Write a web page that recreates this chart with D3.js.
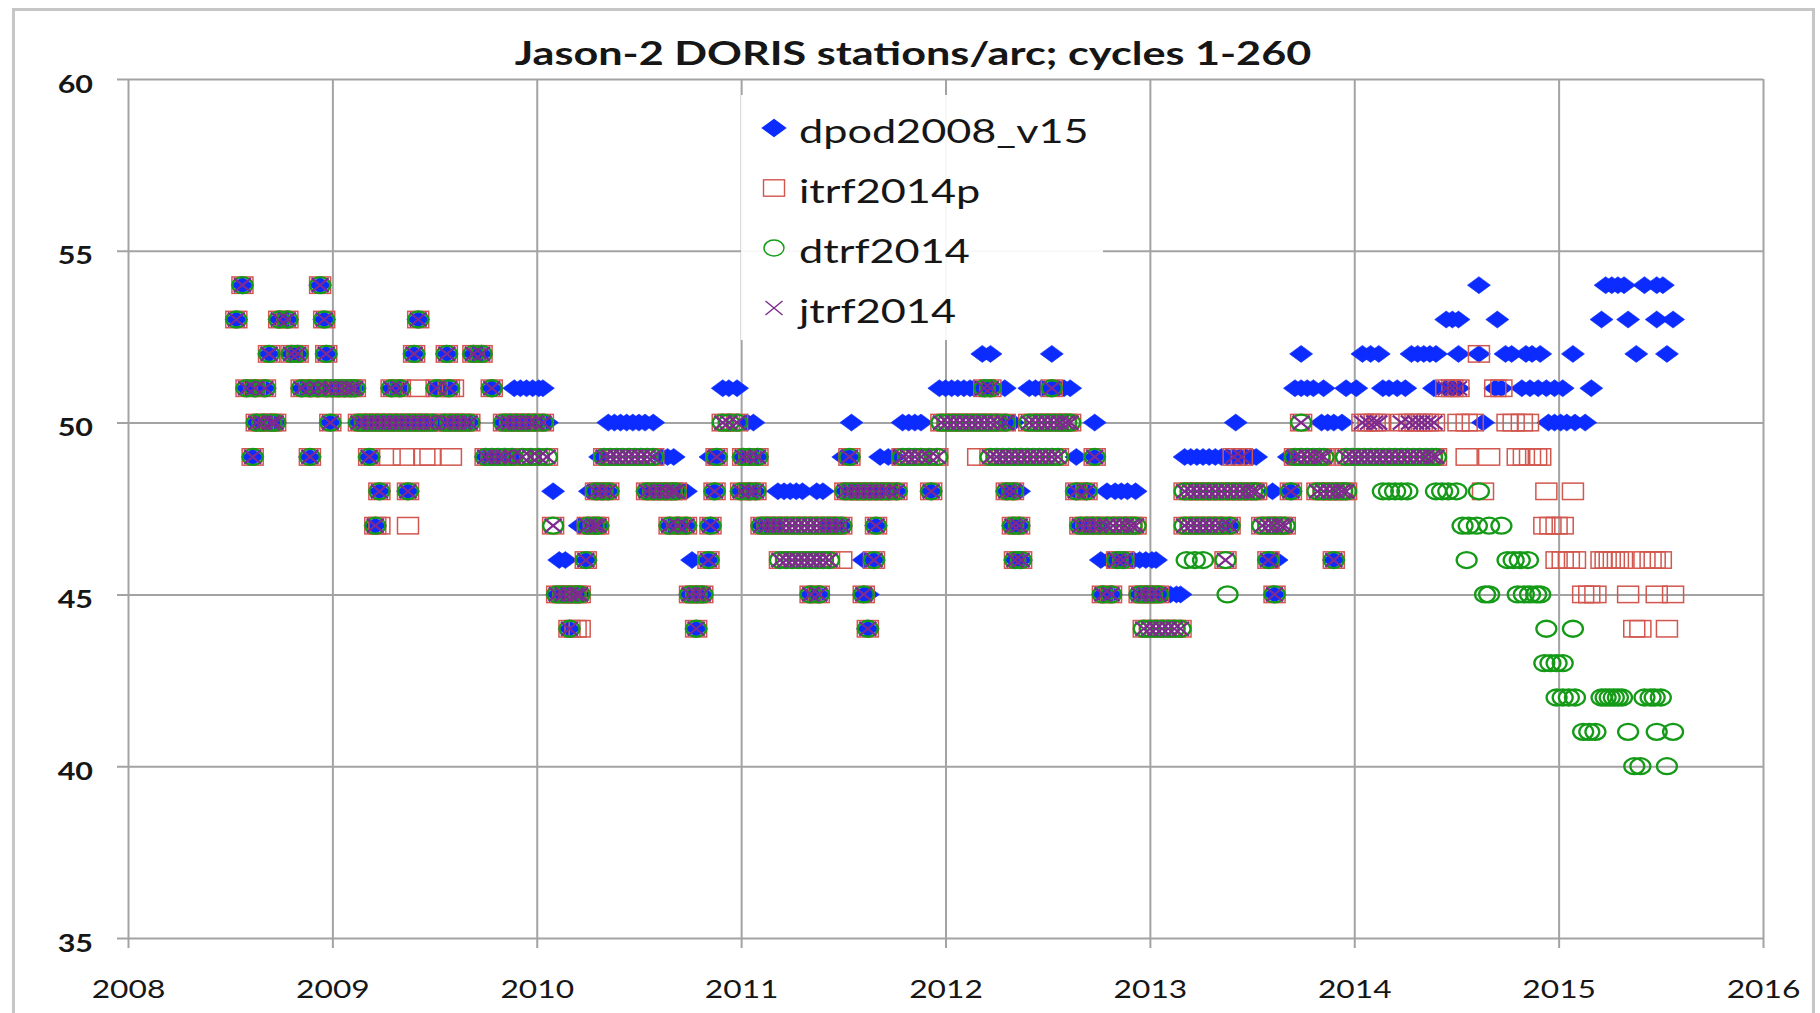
<!DOCTYPE html>
<html>
<head>
<meta charset="utf-8">
<script src="https://cdn.jsdelivr.net/npm/d3@7"></script>
<style>
body { margin: 0; background: #fff; }
svg text { font-family: Lato, "Open Sans", sans-serif; fill: #161616; }
</style>
</head>
<body>
<div class="chart"></div>
<script>
const title = "Jason-2 DORIS stations/arc; cycles 1-260";
const x_ticks = [2008, 2009, 2010, 2011, 2012, 2013, 2014, 2015, 2016];
const y_ticks = [35, 40, 45, 50, 55, 60];
const series_names = ["dpod2008_v15", "itrf2014p", "dtrf2014", "jtrf2014"];

// Arcs where all four solutions give the same station count: [stations, [dates]]
const shared_rows = [
  [54, [2008.56, 2008.94]],
  [53, [2008.53, 2008.74, 2008.78, 2008.96, 2009.42]],
  [52, [2008.69, 2008.80, 2008.83, 2008.97, 2009.40, 2009.56, 2009.69, 2009.73]],
  [51, [2008.58, 2008.62, 2008.67, 2008.85, 2008.89, 2008.93, 2008.97, 2009.00, 2009.03, 2009.06, 2009.09, 2009.11, 2009.29, 2009.33, 2009.51, 2009.57, 2009.78, 2012.19, 2012.22, 2012.52]],
  [50, [2008.63, 2008.66, 2008.70, 2008.72, 2008.99, 2009.13, 2009.16, 2009.19, 2009.22, 2009.25, 2009.28, 2009.31, 2009.34, 2009.37, 2009.40, 2009.43, 2009.46, 2009.49, 2009.55, 2009.58, 2009.61, 2009.64, 2009.67, 2009.84, 2009.87, 2009.90, 2009.93, 2009.96, 2009.99, 2010.03]],
  [49, [2008.61, 2008.89, 2009.18, 2009.75, 2009.78, 2009.81, 2009.84, 2009.88, 2010.88, 2011.01, 2011.04, 2011.08, 2011.53, 2012.73]],
  [48, [2009.23, 2009.37, 2010.29, 2010.32, 2010.35, 2010.54, 2010.57, 2010.60, 2010.63, 2010.66, 2010.68, 2010.87, 2011.00, 2011.04, 2011.07, 2011.51, 2011.54, 2011.57, 2011.60, 2011.63, 2011.66, 2011.69, 2011.72, 2011.76, 2011.93, 2012.30, 2012.33, 2012.64, 2012.69, 2013.69]],
  [47, [2009.21, 2010.25, 2010.28, 2010.30, 2010.65, 2010.69, 2010.73, 2010.85, 2011.10, 2011.13, 2011.16, 2011.43, 2011.46, 2011.49, 2011.66, 2012.33, 2012.36, 2012.66, 2012.69, 2012.72, 2012.75, 2013.39]],
  [46, [2010.24, 2010.84, 2011.65, 2012.34, 2012.37, 2012.84, 2012.87, 2013.58, 2013.90]],
  [45, [2010.10, 2010.13, 2010.16, 2010.19, 2010.21, 2010.75, 2010.78, 2010.81, 2011.34, 2011.38, 2011.60, 2012.77, 2012.81, 2012.95, 2012.98, 2013.01, 2013.04, 2013.61]],
  [44, [2010.16, 2010.78, 2011.62]],
];

// itrf2014p, dtrf2014 and jtrf2014 agree, dpod2008_v15 differs
const no_dpod_rows = [
  [50, [2010.91, 2010.94, 2010.98, 2011.98, 2012.01, 2012.04, 2012.07, 2012.10, 2012.13, 2012.16, 2012.19, 2012.22, 2012.25, 2012.29, 2012.41, 2012.44, 2012.47, 2012.50, 2012.53, 2012.56, 2012.59, 2012.61, 2013.74]],
  [49, [2009.93, 2009.97, 2010.01, 2010.05, 2010.33, 2010.36, 2010.39, 2010.42, 2010.45, 2010.48, 2010.51, 2010.54, 2010.57, 2011.79, 2011.82, 2011.85, 2011.88, 2011.92, 2011.96, 2012.22, 2012.25, 2012.28, 2012.31, 2012.34, 2012.37, 2012.40, 2012.43, 2012.46, 2012.49, 2012.52, 2012.55, 2013.71, 2013.74, 2013.77, 2013.80, 2013.83, 2013.85, 2013.96, 2013.99, 2014.02, 2014.05, 2014.08, 2014.11, 2014.14, 2014.17, 2014.20, 2014.23, 2014.26, 2014.29, 2014.32, 2014.35, 2014.38, 2014.40]],
  [48, [2013.17, 2013.20, 2013.23, 2013.26, 2013.29, 2013.32, 2013.35, 2013.38, 2013.41, 2013.44, 2013.47, 2013.50, 2013.52, 2013.82, 2013.85, 2013.88, 2013.91, 2013.94, 2013.96]],
  [47, [2010.08, 2011.19, 2011.22, 2011.25, 2011.28, 2011.31, 2011.34, 2011.37, 2011.40, 2012.79, 2012.82, 2012.85, 2012.88, 2012.91, 2012.93, 2013.17, 2013.20, 2013.23, 2013.26, 2013.29, 2013.32, 2013.35, 2013.55, 2013.58, 2013.61, 2013.64, 2013.66]],
  [46, [2011.19, 2011.22, 2011.25, 2011.28, 2011.31, 2011.34, 2011.37, 2011.40, 2011.43, 2013.37]],
  [44, [2012.97, 2013.00, 2013.03, 2013.06, 2013.09, 2013.12, 2013.15]],
];

// itrf2014p and jtrf2014 agree
const itrf_jtrf_rows = [
  [51, [2014.45, 2014.48, 2014.51]],
  [50, [2014.04, 2014.07, 2014.10, 2014.12, 2014.23, 2014.27, 2014.30, 2014.33, 2014.36, 2014.39]],
  [49, [2013.41, 2013.45]],
];

const dpod_only_rows = [
  [54, [2014.61, 2015.23, 2015.26, 2015.29, 2015.32, 2015.42, 2015.48, 2015.51]],
  [53, [2014.45, 2014.48, 2014.51, 2014.70, 2015.21, 2015.34, 2015.48, 2015.56]],
  [52, [2012.18, 2012.22, 2012.52, 2013.74, 2014.04, 2014.08, 2014.12, 2014.28, 2014.31, 2014.34, 2014.37, 2014.40, 2014.51, 2014.61, 2014.74, 2014.77, 2014.84, 2014.87, 2014.91, 2015.07, 2015.38, 2015.53]],
  [51, [2009.89, 2009.92, 2009.95, 2009.98, 2010.01, 2010.03, 2010.91, 2010.94, 2010.98, 2011.97, 2012.00, 2012.03, 2012.06, 2012.09, 2012.12, 2012.14, 2012.29, 2012.41, 2012.44, 2012.47, 2012.55, 2012.58, 2012.61, 2013.71, 2013.74, 2013.77, 2013.80, 2013.85, 2013.96, 2014.01, 2014.14, 2014.17, 2014.21, 2014.25, 2014.39, 2014.45, 2014.48, 2014.51, 2014.69, 2014.72, 2014.82, 2014.86, 2014.90, 2014.94, 2014.98, 2015.02, 2015.16]],
  [50, [2010.05, 2010.35, 2010.38, 2010.41, 2010.44, 2010.47, 2010.50, 2010.53, 2010.57, 2011.03, 2011.06, 2011.54, 2011.79, 2011.82, 2011.85, 2011.88, 2012.30, 2012.33, 2012.73, 2013.42, 2013.84, 2013.87, 2013.90, 2013.94, 2014.63, 2014.95, 2014.98, 2015.01, 2015.04, 2015.08, 2015.13]],
  [49, [2010.31, 2010.61, 2010.64, 2010.67, 2010.85, 2011.06, 2011.50, 2011.68, 2011.72, 2011.75, 2012.64, 2013.17, 2013.20, 2013.23, 2013.26, 2013.29, 2013.32, 2013.35, 2013.38, 2013.41, 2013.44, 2013.47, 2013.50, 2013.52, 2013.68]],
  [48, [2010.08, 2010.26, 2010.71, 2010.73, 2011.18, 2011.21, 2011.24, 2011.27, 2011.30, 2011.37, 2011.40, 2012.36, 2012.79, 2012.83, 2012.86, 2012.89, 2012.93, 2013.60]],
  [47, [2010.21]],
  [46, [2010.11, 2010.14, 2010.76, 2011.60, 2012.76, 2012.80, 2012.92, 2012.95, 2012.98, 2013.01, 2013.03, 2013.62]],
  [45, [2011.62, 2013.07, 2013.10, 2013.13, 2013.15]],
];

const itrf_only_rows = [
  [52, [2014.61]],
  [51, [2009.42, 2009.59, 2014.69, 2014.72]],
  [50, [2014.51, 2014.55, 2014.58, 2014.75, 2014.78, 2014.82, 2014.85]],
  [49, [2009.28, 2009.35, 2009.45, 2009.48, 2009.58, 2012.16, 2014.55, 2014.66, 2014.80, 2014.83, 2014.86, 2014.89, 2014.91]],
  [48, [2014.63, 2014.94, 2015.07]],
  [47, [2009.23, 2009.37, 2014.93, 2014.96, 2014.99, 2015.02]],
  [46, [2011.49, 2014.99, 2015.02, 2015.05, 2015.08, 2015.21, 2015.23, 2015.25, 2015.27, 2015.29, 2015.31, 2015.42, 2015.45, 2015.47, 2015.50]],
  [45, [2015.12, 2015.15, 2015.18, 2015.34, 2015.48, 2015.56]],
  [44, [2010.19, 2010.21, 2015.37, 2015.40, 2015.53]],
];

const dtrf_only_rows = [
  [48, [2014.14, 2014.17, 2014.20, 2014.23, 2014.26, 2014.40, 2014.43, 2014.46, 2014.50, 2014.61]],
  [47, [2014.53, 2014.56, 2014.60, 2014.66, 2014.72]],
  [46, [2013.18, 2013.22, 2013.26, 2014.55, 2014.75, 2014.78, 2014.81, 2014.85]],
  [45, [2013.38, 2014.64, 2014.66, 2014.80, 2014.83, 2014.86, 2014.89, 2014.91]],
  [44, [2014.94, 2015.07]],
  [43, [2014.93, 2014.96, 2014.99, 2015.02]],
  [42, [2014.99, 2015.02, 2015.05, 2015.08, 2015.21, 2015.23, 2015.25, 2015.27, 2015.29, 2015.31, 2015.42, 2015.45, 2015.47, 2015.50]],
  [41, [2015.12, 2015.15, 2015.18, 2015.34, 2015.48, 2015.56]],
  [40, [2015.37, 2015.40, 2015.53]],
];

const to_points = rows => rows.flatMap(([value, years]) => years.map(year => ({year, value})));

const shared = to_points(shared_rows);
const no_dpod = to_points(no_dpod_rows);
const itrf_jtrf = to_points(itrf_jtrf_rows);

const series = [
  {name: series_names[0], shape: "diamond", points: shared.concat(to_points(dpod_only_rows))},
  {name: series_names[1], shape: "square", points: shared.concat(no_dpod, itrf_jtrf, to_points(itrf_only_rows))},
  {name: series_names[2], shape: "circle", points: shared.concat(no_dpod, to_points(dtrf_only_rows))},
  {name: series_names[3], shape: "cross", points: shared.concat(no_dpod, itrf_jtrf)},
];

const width = 1820;
const height = 1013;
const plot_left = 128;
const plot_right = 1763;
const plot_top = 79;
const plot_bottom = 938;
const text_stretch = 1.27;   // the original picture is stretched sideways
const grid_color = "#a3a3a3";

const colors = {diamond: "#0b2bff", square: "#d2574f", circle: "#159a18", cross: "#7e2a8e"};

const svg = d3.select(".chart").append("svg")
  .attr("width", width)
  .attr("height", height)
;

// Outer frame
svg.append("rect")
  .attr("x", 13.5).attr("y", 9.5)
  .attr("width", 1800).attr("height", 1030)
  .attr("fill", "#fff")
  .attr("stroke", "#c6c6c6")
  .attr("stroke-width", 3)
;

const x = d3.scaleLinear().domain([2008, 2016]).range([plot_left, plot_right]);
const y = d3.scaleLinear().domain([35, 60]).range([plot_bottom, plot_top]);

// y gridlines + labels
const y_axis = svg.append("g")
  .attr("transform", `translate(${plot_left - 11},0)`)
  .call(d3.axisLeft(y).tickValues(y_ticks).tickSize(-(plot_right - plot_left + 11)).tickSizeOuter(0))
;
y_axis.select(".domain").remove();
y_axis.selectAll("line").attr("stroke", grid_color).attr("stroke-width", 2);
y_axis.selectAll("text")
  .attr("x", 0).attr("dy", null)
  .attr("transform", `translate(-24,13) scale(${text_stretch},1)`)
  .attr("fill", "#161616")
  .style("font-family", "Lato, sans-serif")
  .style("font-size", "24px")
  .style("font-weight", "bold")
;

// x gridlines + labels
const x_axis = svg.append("g")
  .attr("transform", `translate(0,${plot_bottom + 10})`)
  .call(d3.axisBottom(x).tickValues(x_ticks).tickFormat(d3.format("d")).tickSize(-(plot_bottom + 10 - plot_top)).tickSizeOuter(0))
;
x_axis.select(".domain").remove();
x_axis.selectAll("line").attr("stroke", grid_color).attr("stroke-width", 2);
x_axis.selectAll("text")
  .attr("y", 0).attr("dy", null)
  .attr("transform", `translate(0,50) scale(${text_stretch},1)`)
  .attr("fill", "#161616")
  .style("font-family", "Lato, sans-serif")
  .style("font-size", "25px")
;

// Title
svg.append("text")
  .attr("transform", `translate(913,65) scale(1.35,1)`)
  .style("text-anchor", "middle")
  .style("font-size", "32px")
  .style("font-weight", "bold")
  .text(title)
;

function draw_marker(sel, shape) {
  if (shape === "diamond") {
    sel.append("path")
      .attr("d", "M0,-8.5L11.5,0L0,8.5L-11.5,0Z")
      .attr("fill", colors.diamond)
      .attr("stroke", colors.diamond)
      .attr("stroke-width", 0.6);
  } else if (shape === "square") {
    sel.append("rect")
      .attr("x", -10.5).attr("y", -8.2)
      .attr("width", 21).attr("height", 16.4)
      .attr("fill", "none")
      .attr("stroke", colors.square)
      .attr("stroke-width", 1.5);
  } else if (shape === "circle") {
    sel.append("ellipse")
      .attr("rx", 10).attr("ry", 8)
      .attr("fill", "none")
      .attr("stroke", colors.circle)
      .attr("stroke-width", 2.3);
  } else {
    sel.append("path")
      .attr("d", "M-8.5,-7L8.5,7M-8.5,7L8.5,-7")
      .attr("fill", "none")
      .attr("stroke", colors.cross)
      .attr("stroke-width", 2.2);
  }
}

// Points, drawn in series order like the original
const plot = svg.append("g").attr("class", "points");
for (const s of series) {
  plot.append("g")
    .selectAll("g")
    .data(s.points)
    .join("g")
      .attr("transform", d => `translate(${x(d.year)},${y(d.value)})`)
      .each(function() { draw_marker(d3.select(this), s.shape); })
  ;
}

// Legend
const legend = svg.append("g").attr("class", "legend");
legend.append("rect")
  .attr("x", 741).attr("y", 95)
  .attr("width", 362).attr("height", 245)
  .attr("fill", "#fff")
  .attr("fill-opacity", 0.92)
;
const legend_item = legend.selectAll("g.item")
  .data(series)
  .join("g")
    .attr("class", "item")
    .attr("transform", (d, i) => `translate(774,${128 + i * 60})`)
;
legend_item.each(function(d) { draw_marker(d3.select(this), d.shape); });
legend_item.selectAll("path, rect, ellipse").attr("stroke-width", 1.4);
legend_item.append("text")
  .attr("transform", `translate(25,15) scale(1.31,1)`)
  .style("font-size", "33px")
  .text(d => d.name)
;
</script>
</body>
</html>
